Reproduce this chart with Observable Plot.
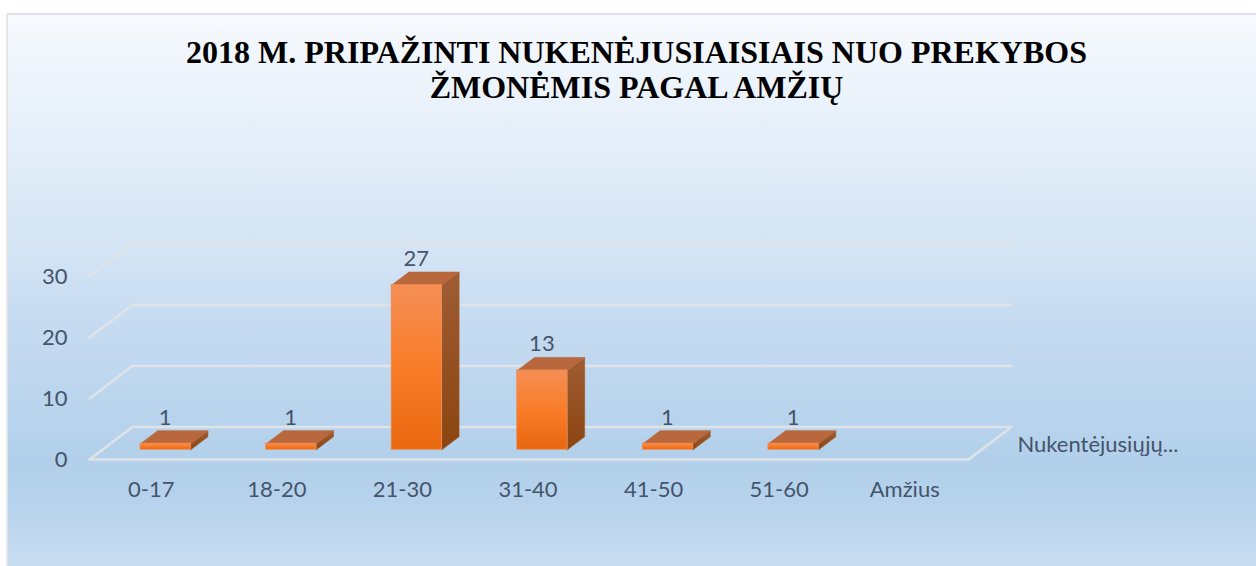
<!DOCTYPE html>
<html lang="lt">
<head>
<meta charset="utf-8">
<script src="https://cdn.jsdelivr.net/npm/d3@7"></script>
<script src="https://cdn.jsdelivr.net/npm/@observablehq/plot@0.6"></script>
<style>
  html, body { margin: 0; padding: 0; background: #fff; overflow: hidden; }
  #wrap { position: relative; width: 1256px; height: 566px; }
  #panel { position: absolute; left: 6px; top: 13px; right: 0; bottom: 0; box-sizing: border-box;
    border-left: 2px solid #e4e6e9; border-top: 2px solid #e0e2e5;
    background: linear-gradient(180deg, #f7fafe 0%, #e9f1fa 17%, #d5e5f4 41%, #c6dbf1 56%, #b2d0eb 81%, #b6d2ec 88%, #c9ddf1 100%); }
  #chart { position: absolute; left: 0; top: 0; }
  #chart svg { background: transparent; display: block; }
</style>
</head>
<body>
<div id="wrap"><div id="panel"></div><div id="chart"></div></div>
<script>
const titleText = "2018 M. PRIPAŽINTI NUKENĖJUSIAISIAIS NUO PREKYBOS\nŽMONĖMIS PAGAL AMŽIŲ";
const categories = ["0-17", "18-20", "21-30", "31-40", "41-50", "51-60", "Amžius"];
const values = [1, 1, 27, 13, 1, 1, null];
const yTicks = [0, 10, 20, 30];
const depthAxisLabel = "Nukentėjusiųjų...";

// oblique projection, in data units: depth 0 = front edge of floor, 1 = back edge
const skewX = 0.342, skewY = 5.33;
const P = (i, v, d) => ({x: i + d * skewX, y: v + d * skewY});
const barHalf = 0.2, dFront = 0.3, dBack = 0.7, barNudge = 0.004;

const bars = categories.map((c, i) => ({c, i, v: values[i]})).filter(d => d.v != null);
const poly = (list) => list.flatMap((pts, k) => pts.map(p => ({...p, k})));

const nCat = categories.length;
const floor = poly([[P(0,0,0), P(0,0,1), P(nCat,0,1), P(nCat,0,0), P(0,0,0)]]);
const grid = poly(yTicks.filter(t => t > 0).map(t => [P(0,t,0), P(0,t,1), P(nCat,t,1)]));
const sides = poly(bars.map(b => {
  const l = b.i + .5 + barNudge + barHalf;
  return [P(l,0,dFront), P(l,0,dBack), P(l,b.v,dBack), P(l,b.v,dFront), P(l,0,dFront)];
}));
const tops = poly(bars.map(b => {
  const l = b.i + .5 + barNudge - barHalf, r = b.i + .5 + barNudge + barHalf;
  return [P(l,b.v,dFront), P(l,b.v,dBack), P(r,b.v,dBack), P(r,b.v,dFront), P(l,b.v,dFront)];
}));
const fronts = bars.map(b => {
  const a = P(b.i + .5 + barNudge - barHalf, 0, dFront), c = P(b.i + .5 + barNudge + barHalf, b.v, dFront);
  return {x1: a.x, x2: c.x, y1: a.y, y2: c.y};
});

const grad = (id, stops) => `<linearGradient id="${id}" x1="0" y1="0" x2="0" y2="1">` +
  stops.map(([o, c]) => `<stop offset="${o}" stop-color="${c}"/>`).join("") + `</linearGradient>`;
const defs = () => {
  const g = document.createElementNS("http://www.w3.org/2000/svg", "g");
  g.innerHTML = `<defs>` +
    grad("frontFill", [[0, "#f58f56"], [.5, "#f97c28"], [1, "#e8670f"]]) +
    grad("sideFill", [[0, "#a05c34"], [1, "#8a450f"]]) + `</defs>`;
  return g;
};

const textCol = "#44546a";
const labelFont = {fontFamily: "Lato,'Open Sans',sans-serif", fontSize: 22, fill: textCol};
const gridCol = "#dfe3e8";

const chart = Plot.plot({
  width: 1256, height: 566,
  marginTop: 0, marginRight: 0, marginBottom: 0, marginLeft: 0,
  x: {type: "linear", domain: [0, nCat], range: [89, 968], axis: null},
  y: {type: "linear", domain: [0, 30], range: [459, 276], axis: null},
  marks: [
    defs,
    Plot.line(floor, {x: "x", y: "y", z: "k", stroke: gridCol, strokeWidth: 2.5}),
    Plot.line(grid, {x: "x", y: "y", z: "k", stroke: gridCol, strokeWidth: 2.5}),
    Plot.line(sides, {x: "x", y: "y", z: "k", fill: "url(#sideFill)", stroke: "#a3592a", strokeWidth: 0.6}),
    Plot.line(tops, {x: "x", y: "y", z: "k", fill: "#b8683c", stroke: "#b8683c", strokeWidth: 0.6}),
    Plot.rect(fronts, {x1: "x1", x2: "x2", y1: "y1", y2: "y2", fill: "url(#frontFill)", stroke: "#f08a4e", strokeWidth: 0.8}),
    Plot.text(bars, {
      x: d => P(d.i + .5, d.v, dFront).x,
      y: d => P(d.i + .5, d.v, dBack).y,
      text: d => String(d.v), dy: -13, ...labelFont
    }),
    Plot.text(yTicks, {x: () => 0, y: d => d, text: d => String(d), textAnchor: "end", dx: -22, dy: 0, ...labelFont}),
    Plot.text(categories, {x: (d, i) => i + .5, y: () => 0, text: d => d, dx: -1, dy: 30, ...labelFont}),
    Plot.text([depthAxisLabel], {x: () => nCat + skewX, y: () => skewY / 2, text: d => d, textAnchor: "start", dx: 6, dy: 2, ...labelFont}),
    Plot.text([titleText], {
      frameAnchor: "top", dx: 8, dy: 37, lineAnchor: "top", lineHeight: 1.1,
      text: d => d, fontFamily: "'Liberation Serif',serif", fontWeight: "bold", fontSize: 32, fill: "#000"
    })
  ]
});
document.getElementById("chart").appendChild(chart);
</script>
</body>
</html>
